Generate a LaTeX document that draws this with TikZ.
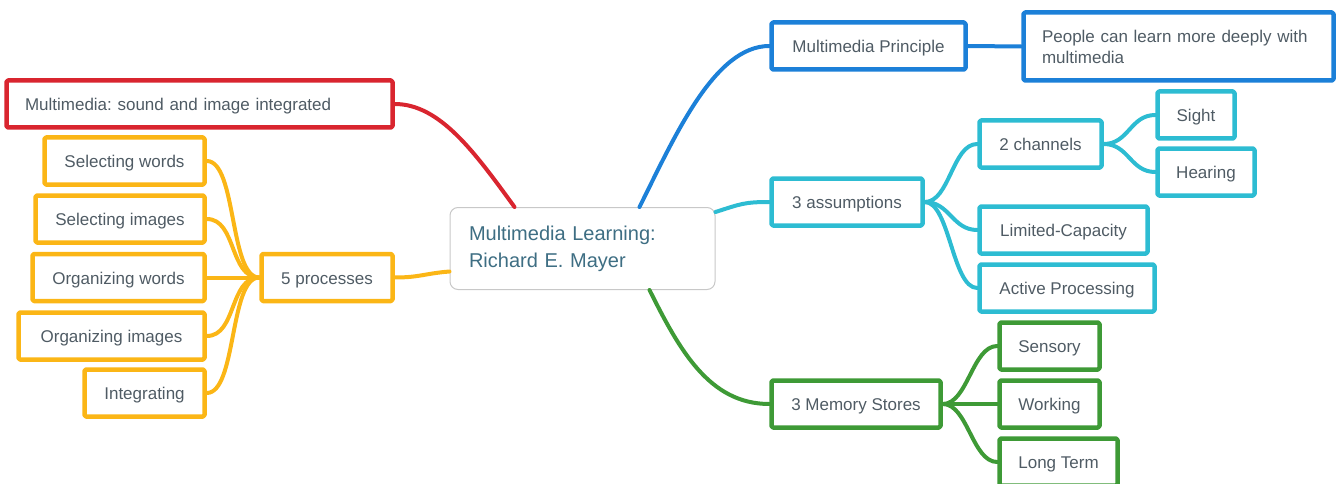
\documentclass[tikz,border=0pt]{standalone}
\usepackage{fontspec}
\setmainfont{Liberation Sans}
\frenchspacing
\usetikzlibrary{calc}
\definecolor{mmred}{HTML}{D9252F}
\definecolor{mmyellow}{HTML}{FBB616}
\definecolor{mmblue}{HTML}{1C80D8}
\definecolor{mmcyan}{HTML}{2DBCD2}
\definecolor{mmgreen}{HTML}{3E9A36}
\definecolor{mmtext}{HTML}{4F5B64}
\definecolor{mmteal}{HTML}{3E6E83}
\definecolor{mmgray}{HTML}{C8C8C8}
\begin{document}
\begin{tikzpicture}[x=1pt,y=-1pt,line cap=round,line join=round,
	frame/.style={draw,line width=4.5pt,rounded corners=1.5pt,minimum height=47pt,inner sep=0pt,text=mmtext,font=\fontsize{17}{21}\selectfont},
	box/.style={frame,text height=13.5pt,text depth=0pt},
	link/.style={line width=4pt}]
	\useasboundingbox (0,0) rectangle (1338,484);
	\node[draw=mmgray,line width=1pt,rounded corners=8pt,fill=white,text width=227pt,inner xsep=19pt,minimum height=82pt,align=left,text=mmteal,font=\fontsize{20}{27}\selectfont] (ctr) at (582.5,248.5) {Multimedia Learning:\\Richard E. Mayer};
	\node[box,draw=mmred,text width=349pt,inner xsep=18.5pt,align=left] (sound) at (199.5,104) {Multimedia: sound and image integrated};
	\node[box,draw=mmyellow,minimum width=131pt] (proc) at (327,277.5) {5 processes};
	\node[box,draw=mmyellow,minimum width=160pt] (selw) at (124.5,161) {Selecting words};
	\node[box,draw=mmyellow,minimum width=169pt] (seli) at (120,219) {Selecting images};
	\node[box,draw=mmyellow,minimum width=172pt] (orgw) at (118.5,277.5) {Organizing words};
	\node[box,draw=mmyellow,minimum width=186pt] (orgi) at (111.5,336) {Organizing images};
	\node[box,draw=mmyellow,minimum width=120pt] (integ) at (144.5,393) {Integrating};
	\node[box,draw=mmblue,minimum width=194pt] (mp) at (868.5,46) {Multimedia Principle};
	\node[frame,draw=mmblue,text width=273pt,inner xsep=18.5pt,minimum height=68pt,align=left] (ppl) at (1178.5,46.5) {People can learn more deeply with\\multimedia};
	\node[box,draw=mmcyan,minimum width=151pt] (asm) at (847,202) {3 assumptions};
	\node[box,draw=mmcyan,minimum width=122pt] (chan) at (1040.5,144) {2 channels};
	\node[box,draw=mmcyan,minimum width=77pt] (sight) at (1196,115) {Sight};
	\node[box,draw=mmcyan,minimum width=97pt] (hear) at (1206,172) {Hearing};
	\node[box,draw=mmcyan,minimum width=168pt] (lim) at (1063.5,230) {Limited-Capacity};
	\node[box,draw=mmcyan,minimum width=175pt] (act) at (1067,288) {Active Processing};
	\node[box,draw=mmgreen,minimum width=169pt] (mem) at (856,404) {3 Memory Stores};
	\node[box,draw=mmgreen,minimum width=100pt] (sens) at (1049.5,346) {Sensory};
	\node[box,draw=mmgreen,minimum width=100pt] (work) at (1049.5,404) {Working};
	\node[box,draw=mmgreen,minimum width=118pt] (long) at (1058.5,462) {Long Term};
	\draw[link,mmred] (sound.east) .. controls +(45,0) and +(-40,-55) .. ($(ctr.north west)+(65,0)$);
	\draw[link,mmblue] ($(ctr.north west)+(190,0)$) .. controls +(35,-70) and +(-55,0) .. (mp.west);
	\draw[link,mmcyan] ($(ctr.north east)+(0,5)$) .. controls +(25,-8) and +(-25,0) .. (asm.west);
	\draw[link,mmgreen] ($(ctr.south west)+(200,0)$) .. controls +(30,60) and +(-60,0) .. (mem.west);
	\draw[link,mmyellow] ($(ctr.west)+(0,23)$) .. controls +(-25,2) and +(25,0) .. (proc.east);
	\draw[link,mmblue] (mp.east) -- (ppl.west);
	\foreach \n in {selw,seli,orgw,orgi,integ}
		\draw[link,mmyellow] (proc.west) .. controls +(-30,0) and +(30,0) .. (\n.east);
	\foreach \n in {chan,lim,act}
		\draw[link,mmcyan] (asm.east) .. controls +(25,0) and +(-25,0) .. (\n.west);
	\foreach \n in {sight,hear}
		\draw[link,mmcyan] (chan.east) .. controls +(25,0) and +(-25,0) .. (\n.west);
	\foreach \n in {sens,work,long}
		\draw[link,mmgreen] (mem.east) .. controls +(25,0) and +(-25,0) .. (\n.west);
\end{tikzpicture}
\end{document}
